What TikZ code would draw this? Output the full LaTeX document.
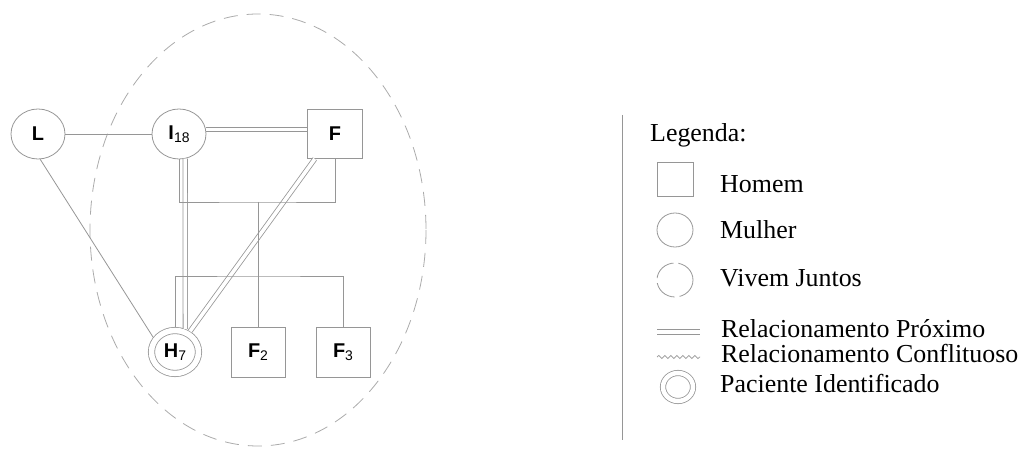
\documentclass[tikz,border=0pt]{standalone}
\usepackage{fontspec}
\setmainfont{Liberation Serif}
\setsansfont{Liberation Sans}
\usetikzlibrary{shapes.geometric,decorations.pathmorphing}
\newcommand{\idx}[1]{\raisebox{-0.15em}{\mdseries\fontsize{14}{14}\selectfont #1}}

\begin{document}
\begin{tikzpicture}[x=1bp, y=-1bp,
    traco/.style={draw=cinza, line width=0.8bp},
    proximo/.style={draw=cinza, line width=0.8bp, double=white, double distance=3.6bp},
    rotulo/.style={font=\sffamily\bfseries\fontsize{20}{20}\selectfont},
    mulher/.style={ellipse, traco, rotulo, minimum width=54bp, minimum height=50bp, inner sep=0pt},
    homem/.style={rectangle, traco, rotulo, minimum width=54bp, minimum height=50bp, inner sep=0pt},
    paciente/.style={ellipse, traco, rotulo, double=white, double distance=5.5bp, inner sep=0pt, outer sep=3.55bp},
    legtexto/.style={anchor=base west, inner sep=0pt, font=\fontsize{26}{30}\selectfont}]
    \definecolor{cinza}{RGB}{150,150,150}
    \useasboundingbox (0,0) rectangle (1032,450);
    % familia
    \draw[cinza!80, line width=0.8bp, dash pattern=on 14bp off 9bp] (258,230) ellipse [x radius=168, y radius=216];
    \node[mulher] (L) at (38,134) {L};
    \node[mulher] (I18) at (179,134) {I\idx{18}};
    \node[homem, minimum width=55bp, minimum height=49bp] (F) at (335,134) {F};
    \node[paciente, minimum width=47bp, minimum height=43bp] (H7) at (175,352) {H\idx{7}};
    \node[homem] (F2) at (258,352) {F\idx{2}};
    \node[homem] (F3) at (343,352) {F\idx{3}};
    \coordinate (casal) at (258,202);
    \coordinate (irmaos) at (258,276);
    \draw[proximo] ([yshift=4.5bp]I18.east) -- ([yshift=4.5bp]F.west);
    \draw[proximo] (I18.-76) -- (H7.66);
    \draw[proximo] (F.-129) -- (H7.54);
    \draw[traco] (L) -- (I18);
    \draw[traco] (L.-85) -- (H7.146);
    \draw[traco] (I18.south) |- (casal) -| (F.south);
    \draw[traco] (casal) -- (irmaos);
    \draw[traco] (H7.north) |- (irmaos) -| (F3.north);
    \draw[traco] (irmaos) -- (F2.north);
    % legenda
    \draw[traco] (622,115) -- (622,440);
    \node[legtexto] (legenda) at (650,142) {Legenda:};
    \node[homem, minimum width=36bp, minimum height=34bp] (lhomem) at (675,179) {};
    \node[legtexto] (thomem) at (720,193) {Homem};
    \node[mulher, minimum width=36bp, minimum height=34bp] (lmulher) at (675,230) {};
    \node[legtexto] (tmulher) at (720,239) {Mulher};
    \node[mulher, dash pattern=on 24bp off 5bp, minimum width=36bp, minimum height=34bp] (ljuntos) at (675,280) {};
    \node[legtexto] (tjuntos) at (720,287) {Vivem Juntos};
    \draw[proximo] (657,332) -- (700,332);
    \node[legtexto] (tproximo) at (721,338) {Relacionamento Próximo};
    \draw[cinza, line width=0.7bp, decorate, decoration={snake, segment length=6bp, amplitude=1.6bp}] (657,357) -- (700,357);
    \node[legtexto] (tconflito) at (721,363) {Relacionamento Conflituoso};
    \node[paciente, double distance=4.5bp, outer sep=0pt, minimum width=30bp, minimum height=28bp] (lpaciente) at (678,387) {};
    \node[legtexto] (tpaciente) at (720,393) {Paciente Identificado};
\end{tikzpicture}
\end{document}
